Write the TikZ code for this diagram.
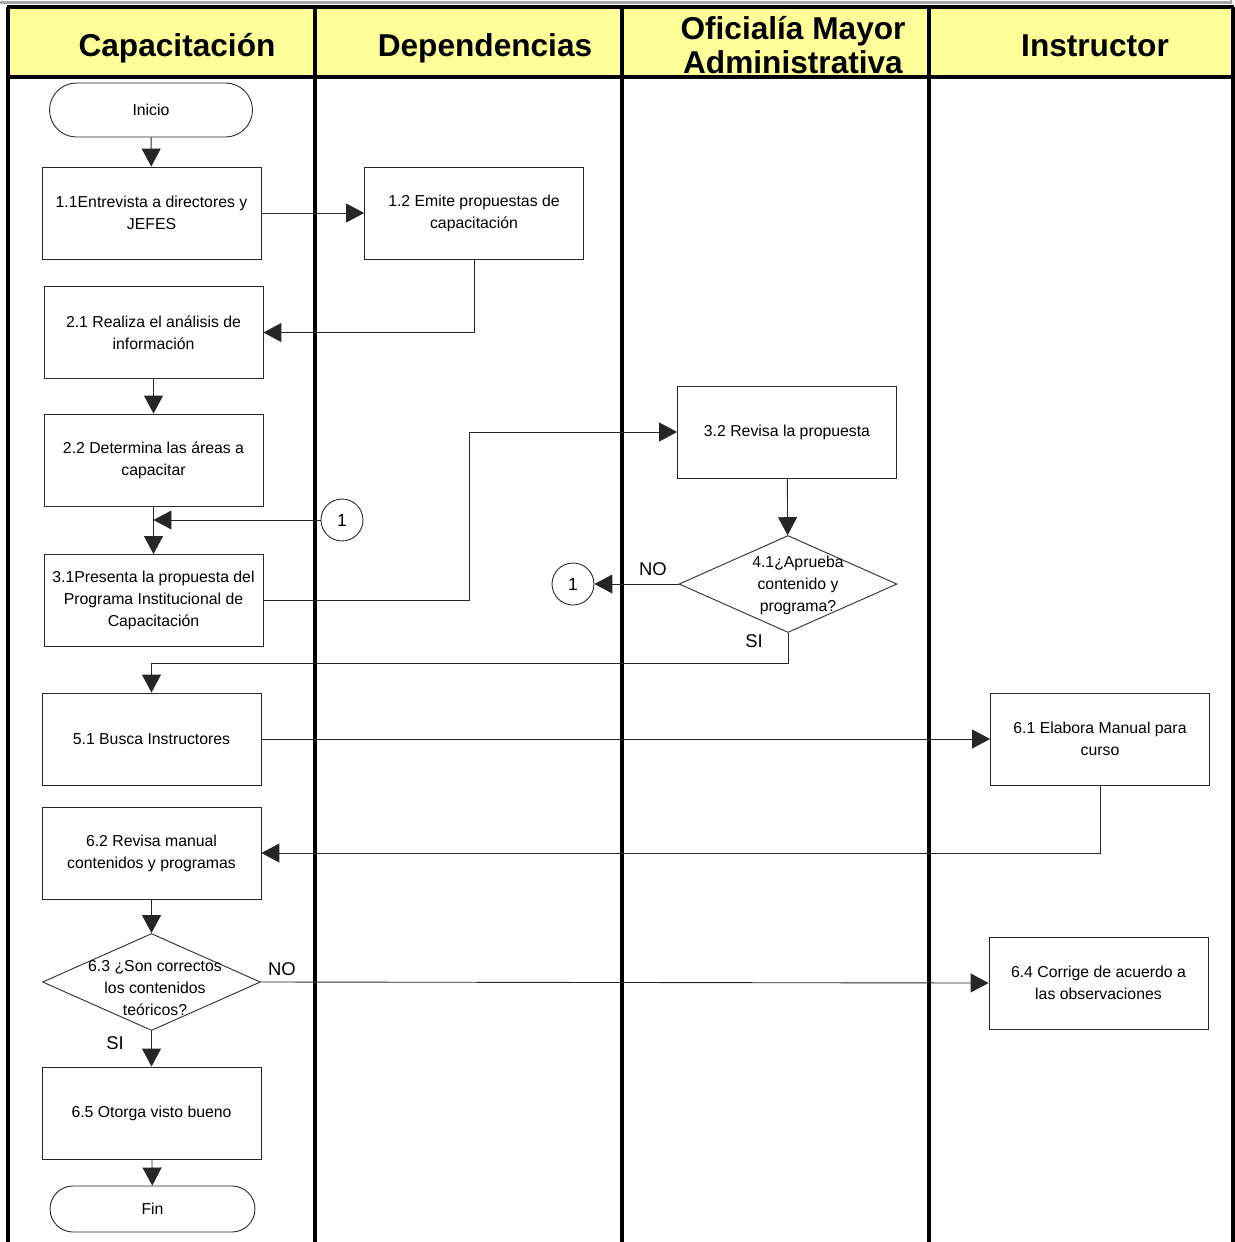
\documentclass[tikz,border=0pt]{standalone}
\usepackage{fontspec}
\setmainfont{Liberation Sans}
\usetikzlibrary{arrows.meta,shapes.geometric,shapes.misc}
\definecolor{lanehead}{HTML}{FFFF99}

\begin{document}
\begin{tikzpicture}[x=0.02cm,y=-0.02cm,
  proc/.style={draw=black!85,line width=0.5pt,minimum width=4.38cm,minimum height=1.84cm,inner sep=0pt,align=center,font=\fontsize{9}{12.5}\selectfont},
  term/.style={draw=black!85,rounded rectangle,line width=0.5pt,inner sep=0pt,font=\fontsize{9}{12.5}\selectfont},
  decide/.style={draw=black!85,diamond,line width=0.5pt,minimum width=4.36cm,minimum height=1.94cm,inner sep=0pt},
  dtext/.style={align=center,inner sep=0pt,font=\fontsize{9}{12.5}\selectfont},
  conn/.style={draw=black!85,circle,line width=0.5pt,minimum size=0.84cm,inner sep=0pt,font=\fontsize{10}{12}\selectfont},
  choice/.style={inner sep=0pt,font=\fontsize{10.5}{12}\selectfont},
  head/.style={align=center,inner sep=0pt,font=\fontsize{18}{19.5}\selectfont\bfseries},
  lane/.style={line width=1.8pt},
  flow/.style={draw=black!85,line width=0.5pt,-{Triangle[length=0.36cm,width=0.38cm]}}]
\useasboundingbox (0,0) rectangle (1235,1242);
\draw[gray!70,line width=1.2pt] (0,2.5) -- (1231,2.5) -- (1231,-1);
\fill[lanehead] (8,7) rectangle (1233,77);
\draw[lane] (7,7) -- (1234,7); \draw[lane] (7,77) -- (1234,77);
\foreach \x in {8,315,622,929,1233} \draw[lane] (\x,7) -- (\x,1242);
\node[head,anchor=base] (hcap) at (177,56.5) {Capacitación};
\node[head,anchor=base] (hdep) at (485,56.5) {Dependencias};
\node[head] (hofi) at (793,45) {Oficialía Mayor\\Administrativa};
\node[head,anchor=base] (hins) at (1095,56.5) {Instructor};

\node[term,minimum width=4.06cm,minimum height=1.08cm] (ini) at (151,110) {Inicio};
\node[proc] (t11) at (151.5,213) {1.1Entrevista a directores y\\JEFES};
\node[proc] (t12) at (474,213) {1.2 Emite propuestas de\\capacitación};
\node[proc] (t21) at (153.5,332.5) {2.1 Realiza el análisis de\\información};
\node[proc] (t22) at (153.5,460) {2.2 Determina las áreas a\\capacitar};
\node[conn] (c1a) at (342,520) {1};
\node[proc] (t31) at (153.5,600.5) {3.1Presenta la propuesta del\\Programa Institucional de\\Capacitación};
\node[proc] (t32) at (787,432) {3.2 Revisa la propuesta};
\node[decide] (d41) at (788,584) {};
\node[dtext] (d41t) at (798,585) {4.1¿Aprueba\\contenido y\\programa?};
\node[conn] (c1b) at (573,584) {1};
\node[choice] (no41) at (653,569) {NO};
\node[choice] (si41) at (754,641) {SI};
\node[proc] (t51) at (151.5,739) {5.1 Busca Instructores};
\node[proc] (t61) at (1100,739) {6.1 Elabora Manual para\\curso};
\node[proc] (t62) at (151.5,853) {6.2 Revisa manual\\contenidos y programas};
\node[decide] (d63) at (151.5,982) {};
\node[dtext] (d63t) at (155,988) {6.3 ¿Son correctos\\los contenidos\\teóricos?};
\node[choice] (no63) at (282,969) {NO};
\node[choice] (si63) at (115,1043) {SI};
\node[proc] (t64) at (1098.5,983) {6.4 Corrige de acuerdo a\\las observaciones};
\node[proc] (t65) at (151.5,1113) {6.5 Otorga visto bueno};
\node[term,minimum width=4.1cm,minimum height=0.92cm] (fin) at (152.5,1209) {Fin};

\draw[flow] (ini) -- (t11);
\draw[flow] (t11) -- (t12);
\draw[flow] (t12.south) |- (t21.east);
\draw[flow] (t21) -- (t22);
\draw[flow] (t22) -- (t31);
\draw[flow] (c1a) -- (c1a -| t22.south);
\draw[flow] (t31.east) -- ++(206,0) |- (t32.west);
\draw[flow] (t32) -- (d41);
\draw[flow] (d41.west) -- (c1b);
\draw[flow] (d41.south) -- ++(0,30) -| (t51.north);
\draw[flow] (t51) -- (t61);
\draw[flow] (t61.south) |- (t62.east);
\draw[flow] (t62) -- (d63);
\draw[flow] (d63.east) -- (t64.west);
\draw[flow] (d63) -- (t65);
\draw[flow] (t65) -- (fin);
\end{tikzpicture}
\end{document}
